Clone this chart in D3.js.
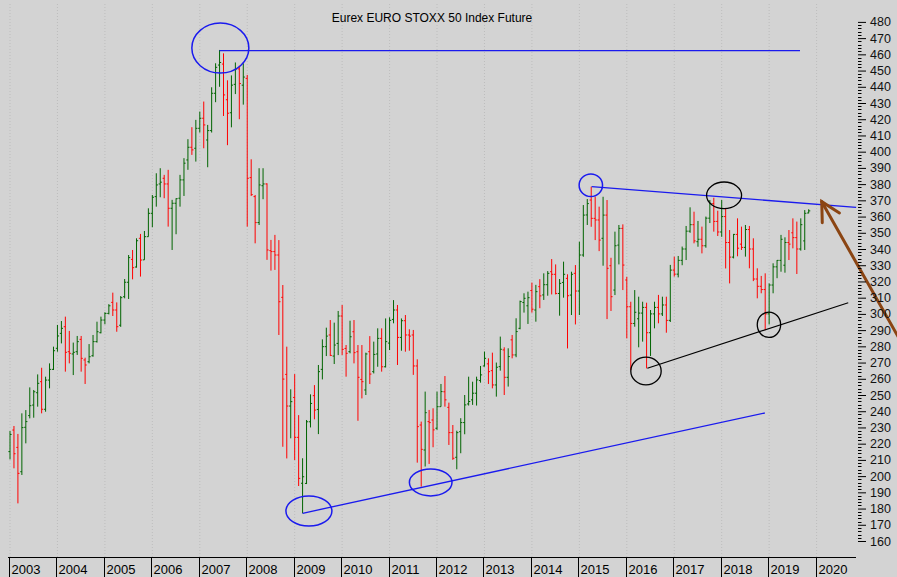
<!DOCTYPE html>
<html><head><meta charset="utf-8">
<script src="https://cdn.jsdelivr.net/npm/d3@7/dist/d3.min.js"></script>
<style>
html,body{margin:0;padding:0;background:#ffffff;}
svg{display:block;font-family:"Liberation Sans",Arial,Helvetica,sans-serif;}
</style>
</head><body>
<script>
// ---------- DATA (monthly OHLC, index points /10) ----------
const firstMonth = "2003-01";
const open = [
215.1,228.4,217.7,202.7,230.1,237.3,243.8,251.4,258.2,241.2,259.2,265.8,
278.8,288.0,292.1,276.7,275.3,276.7,284.3,271.6,270.5,274.2,282.9,288.4,
296.2,300.3,307.1,302.4,293.0,310.6,319.5,333.6,328.9,346.6,333.3,347.6,
362.0,372.3,380.1,383.6,380.1,365.1,368.2,371.3,382.6,394.9,402.7,402.1,
414.4,420.6,407.2,413.0,436.0,453.4,454.0,432.0,424.0,441.5,451.0,441.0,
445.2,384.0,372.3,356.3,379.0,380.1,339.0,338.4,336.3,310.2,262.7,243.2,
248.5,223.9,195.6,195.5,233.5,249.6,241.1,265.8,279.8,287.0,274.0,281.8,
298.7,278.7,276.7,289.0,276.7,259.6,253.1,276.7,264.4,275.3,284.9,267.4,
282.0,296.6,302.4,285.5,295.8,287.0,287.0,267.9,231.5,216.1,233.6,234.6,
229.5,242.8,252.0,242.4,226.8,211.6,227.4,233.0,244.5,247.0,251.1,258.9,
267.9,269.2,265.0,256.2,267.5,277.8,260.9,284.0,274.7,291.1,307.0,305.0,
314.4,302.4,316.8,311.7,318.0,326.0,324.4,312.6,319.4,321.9,311.6,325.0,
314.1,336.3,361.0,370.2,358.9,357.9,346.6,360.9,329.7,314.7,342.4,352.7,
320.9,304.4,294.1,297.0,300.5,304.0,288.4,300.0,304.0,300.0,305.5,296.0,
327.0,324.5,333.0,340.0,351.0,355.0,344.5,346.0,342.0,359.0,368.0,357.0,
350.5,360.0,344.0,335.0,349.0,343.0,341.0,352.0,340.0,321.5,317.0,315.0,
300.0,317.8,329.0,333.0,330.0,344.0,350.0,347.0,340.0,345.0,362.2];
const high = [
227.8,230.9,226.0,238.7,240.7,254.7,253.1,262.7,266.8,261.3,269.5,279.8,
293.2,295.6,298.3,289.5,282.3,286.4,286.4,273.0,281.4,287.0,295.2,298.3,
301.0,306.0,313.1,307.1,311.0,321.5,336.3,339.4,346.6,349.3,351.1,365.1,
373.3,386.7,389.8,385.7,388.8,370.3,371.3,385.7,396.0,407.7,415.1,419.6,
424.7,430.9,416.5,439.7,454.5,462.7,460.6,444.0,447.0,455.0,453.0,454.5,
447.3,395.3,373.3,389.8,389.8,380.5,345.6,348.7,345.5,317.8,279.8,253.5,
262.9,237.6,211.0,234.6,250.4,256.1,268.5,284.3,291.5,296.2,294.6,301.8,
305.5,280.8,295.8,296.2,280.8,280.8,276.1,286.3,282.9,291.1,291.1,297.2,
297.9,308.5,305.5,297.2,299.3,290.5,290.1,272.0,233.6,252.1,240.8,241.8,
252.1,256.8,261.7,245.3,231.5,228.0,235.7,250.0,261.3,258.2,261.3,267.9,
276.8,272.6,276.1,270.0,286.0,279.4,278.8,287.0,297.3,308.2,312.7,313.7,
319.3,317.9,321.4,325.0,326.4,333.8,330.5,321.5,332.2,324.4,326.0,330.1,
344.5,367.1,370.8,378.4,372.2,366.1,372.2,370.2,334.6,350.7,354.8,355.2,
322.9,307.5,314.7,310.6,307.5,306.9,302.4,307.5,311.7,310.6,310.6,330.2,
335.3,335.7,341.5,354.2,365.7,363.0,357.3,353.8,360.0,370.2,371.6,363.6,
370.2,365.0,351.7,349.3,358.9,353.8,354.8,354.2,346.6,328.1,323.4,325.0,
318.8,331.2,333.2,348.7,347.2,351.7,358.9,356.9,358.9,364.0,364.5];
const low = [
210.3,204.8,183.2,200.7,220.2,235.6,236.0,242.8,238.7,239.7,254.1,265.4,
276.7,281.8,264.4,269.5,262.3,274.7,264.4,256.8,269.5,273.6,282.3,288.0,
293.6,299.7,298.7,289.0,292.0,309.6,309.2,321.3,328.5,323.0,333.3,347.6,
353.4,366.1,371.9,371.3,353.8,339.4,349.1,366.1,372.7,388.8,398.0,393.9,
411.8,402.1,390.4,411.8,430.5,440.0,422.0,404.0,415.0,435.5,420.0,429.0,
353.8,372.7,343.5,354.8,370.7,333.3,326.7,327.1,287.0,218.1,210.9,223.3,
209.9,193.9,177.1,195.1,230.0,235.0,225.9,259.6,274.0,274.0,269.1,274.6,
274.6,261.3,275.7,269.5,234.1,247.9,250.0,256.8,263.3,267.4,264.4,267.0,
277.7,294.2,268.5,277.3,276.7,277.3,262.4,208.3,193.5,205.9,207.5,217.8,
228.5,242.8,242.8,219.2,210.0,204.2,214.1,225.8,243.5,243.9,243.5,257.6,
267.5,256.8,254.1,249.0,265.0,250.0,255.2,272.6,273.3,290.5,300.8,293.8,
300.8,295.2,303.5,308.6,311.2,312.0,312.0,298.9,310.0,278.7,299.3,293.5,
299.3,335.2,354.8,353.7,345.5,338.7,329.7,296.8,301.8,311.6,330.5,314.7,
284.9,265.3,292.1,279.4,282.9,266.4,274.0,291.1,294.2,298.7,288.4,295.0,
323.0,322.5,330.0,333.2,350.0,343.5,341.4,337.3,340.8,356.0,350.7,348.0,
347.5,328.0,318.8,334.2,335.5,339.4,335.3,328.1,320.2,309.6,312.7,290.0,
293.5,312.7,322.0,326.0,325.4,333.2,340.4,324.6,339.0,339.4,362.0];
const close = [
225.7,213.8,201.7,229.9,233.6,243.4,252.0,257.2,241.2,259.2,265.8,277.3,
286.4,291.1,276.3,275.7,276.3,282.9,272.6,268.5,273.6,282.9,289.0,296.2,
300.3,305.0,302.4,292.1,310.0,319.5,334.7,328.5,345.1,333.2,347.6,362.0,
371.9,379.5,381.2,380.1,365.1,368.2,371.0,382.6,392.9,402.7,401.1,414.4,
420.6,416.5,413.0,436.0,452.0,455.0,435.0,423.7,441.0,451.0,442.0,446.0,
383.6,373.5,356.3,379.5,380.1,339.4,338.4,336.3,307.5,259.8,243.2,245.9,
223.9,198.6,199.6,233.5,244.8,240.7,264.4,279.8,286.3,274.4,280.8,298.7,
278.1,275.7,285.9,276.1,260.9,258.2,275.3,262.9,275.0,284.9,267.4,282.9,
296.0,302.4,285.5,295.8,287.0,286.3,267.9,230.5,216.5,239.1,233.0,228.5,
242.8,252.1,247.0,226.8,211.0,226.8,233.0,243.9,246.0,251.1,259.3,262.4,
272.6,264.4,256.2,267.1,278.2,260.9,273.7,274.7,289.1,307.6,309.6,310.0,
302.9,313.7,311.1,318.0,325.0,324.4,312.6,318.8,324.4,311.2,324.4,314.1,
336.3,360.9,368.0,358.9,357.9,345.5,360.9,328.1,310.6,342.0,352.7,330.1,
304.4,294.1,301.0,300.5,304.0,288.4,300.0,304.0,300.0,305.5,296.0,327.0,
324.5,333.0,340.0,351.0,355.0,345.0,346.0,342.0,359.0,368.0,357.0,350.5,
360.0,344.0,335.0,349.0,340.5,341.0,352.0,340.0,321.5,317.0,315.0,300.0,
317.8,329.0,333.0,346.0,344.0,343.0,347.0,340.0,355.0,362.0,363.5];
const yearLabels = ["2003","2004","2005","2006","2007","2008","2009","2010","2011",
  "2012","2013","2014","2015","2016","2017","2018","2019","2020"];
const priceTickLabels = [160,170,180,190,200,210,220,230,240,250,260,270,280,290,300,
  310,320,330,340,350,360,370,380,390,400,410,420,430,440,450,460,470,480];
const title = "Eurex EURO STOXX 50 Index Future";

// annotation anchors in data space (month index, price)
const blueEllipses = [
  {m:53.2, p:463.9, rx:28.5, ry:25},
  {m:75.6, p:178.5, rx:23, ry:15},
  {m:106.4, p:196.1, rx:21.3, ry:13.5},
  {m:146.9, p:379.3, rx:11.7, ry:11.3}
];
const blackEllipses = [
  {m:180.6, p:373.1, rx:17.5, ry:13.3},
  {m:160.85, p:264.8, rx:15.2, ry:13.8},
  {m:191.95, p:293.3, rx:11.7, ry:12.7}
];
const blueLines = [
  {m1:53.0, p1:462.3, m2:199.8, p2:462.3},
  {m1:74.0, p1:177.1, m2:190.9, p2:238.9},
  {m1:147.1, p1:378.4, m2:214.0, p2:365.7}
];
const blackLines = [{m1:161.2, p1:266.5, m2:212.0, p2:306.9}];
const arrow = {m1:224.6, p1:286.0, m2:205.3, p2:369.2};

// ---------- LAYOUT ----------
const W = 897, H = 577;
const svg = d3.select("body").append("svg").attr("width", W).attr("height", H);
const n = close.length;
const x = d3.scaleLinear().domain([0, 204]).range([10, 816.6]);
const y = d3.scaleLinear().domain([160, 480]).range([541.0, 21.9]);

svg.append("rect").attr("width", W).attr("height", H).attr("fill", "#d3d3d3");

// gridlines at each January
const yearIdx = yearLabels.map((d, k) => k * 12);
svg.append("g").selectAll("line").data(yearIdx).join("line")
  .attr("x1", d => x(d)).attr("x2", d => x(d))
  .attr("y1", 4).attr("y2", 557)
  .attr("stroke", "#bdbdbd").attr("stroke-width", 1).attr("stroke-dasharray", "1,2");

// title
svg.append("text").attr("x", 432).attr("y", 22).attr("text-anchor", "middle")
  .attr("font-size", 12).attr("fill", "#000").text(title);

// OHLC bars
const bars = svg.append("g").selectAll("g").data(d3.range(n)).join("g")
  .attr("stroke", i => close[i] >= open[i] ? "#006400" : "#ff0000")
  .attr("stroke-width", 1);
bars.append("line").attr("x1", i => x(i)).attr("x2", i => x(i))
  .attr("y1", i => y(high[i])).attr("y2", i => y(low[i]));
bars.append("line").attr("x1", i => x(i) - 1.6).attr("x2", i => x(i))
  .attr("y1", i => y(open[i])).attr("y2", i => y(open[i]));
bars.append("line").attr("x1", i => x(i)).attr("x2", i => x(i) + 1.6)
  .attr("y1", i => y(close[i])).attr("y2", i => y(close[i]));

// annotations
const ann = svg.append("g").attr("fill", "none");
ann.selectAll("line.bl").data(blueLines).join("line")
  .attr("x1", d => x(d.m1)).attr("y1", d => y(d.p1))
  .attr("x2", d => x(d.m2)).attr("y2", d => y(d.p2))
  .attr("stroke", "#1a1aee").attr("stroke-width", 1.3);
ann.selectAll("line.kl").data(blackLines).join("line")
  .attr("x1", d => x(d.m1)).attr("y1", d => y(d.p1))
  .attr("x2", d => x(d.m2)).attr("y2", d => y(d.p2))
  .attr("stroke", "#000").attr("stroke-width", 1.2);
ann.selectAll("ellipse.be").data(blueEllipses).join("ellipse")
  .attr("cx", d => x(d.m)).attr("cy", d => y(d.p)).attr("rx", d => d.rx).attr("ry", d => d.ry)
  .attr("stroke", "#1a1aee").attr("stroke-width", 1.5);
ann.selectAll("ellipse.ke").data(blackEllipses).join("ellipse")
  .attr("cx", d => x(d.m)).attr("cy", d => y(d.p)).attr("rx", d => d.rx).attr("ry", d => d.ry)
  .attr("stroke", "#000").attr("stroke-width", 1.3);

// brown arrow
{
  const ax1 = x(arrow.m1), ay1 = y(arrow.p1), ax2 = x(arrow.m2), ay2 = y(arrow.p2);
  const ang = Math.atan2(ay1 - ay2, ax1 - ax2);
  const L = 21, spread = 28 * Math.PI / 180;
  const g = svg.append("g").attr("stroke", "#8b4513").attr("stroke-width", 3)
    .attr("fill", "none").attr("stroke-linecap", "round");
  g.append("line").attr("x1", ax1).attr("y1", ay1).attr("x2", ax2).attr("y2", ay2);
  g.append("path").attr("d", `M${ax2 + L*Math.cos(ang - spread)},${ay2 + L*Math.sin(ang - spread)}L${ax2},${ay2}L${ax2 + L*Math.cos(ang + spread)},${ay2 + L*Math.sin(ang + spread)}`);
}

// right price axis
const yAxis = d3.axisRight(y).tickValues(priceTickLabels).tickSize(8).tickPadding(4)
  .tickFormat(d3.format("d"));
const ga = svg.append("g").attr("transform", "translate(858,0)").call(yAxis);
ga.select(".domain").remove();
ga.selectAll("text").attr("font-size", 12.5).attr("fill", "#111")
  .attr("font-family", "Liberation Sans, Arial, sans-serif");
ga.selectAll("line").attr("stroke", "#000");
const minor = d3.range(160, 482, 2).filter(v => v % 10 !== 0);
svg.append("g").selectAll("line").data(minor).join("line")
  .attr("x1", 858).attr("x2", 861.5).attr("y1", d => Math.round(y(d)) + 0.5).attr("y2", d => Math.round(y(d)) + 0.5)
  .attr("stroke", "#000").attr("stroke-width", 1);

// bottom year axis
svg.append("line").attr("x1", 8).attr("x2", 856).attr("y1", 557.5).attr("y2", 557.5)
  .attr("stroke", "#000");
const yrs = svg.append("g").selectAll("g").data(yearLabels).join("g")
  .attr("transform", (d, k) => `translate(${Math.round(x(k * 12)) - 0.5},0)`);
yrs.append("line").attr("x1", 0).attr("x2", 0).attr("y1", 557).attr("y2", 577).attr("stroke", "#000");
yrs.append("text").attr("x", 2).attr("y", 574).attr("font-size", 13).attr("fill", "#000").text(d => d);
</script>
</body></html>
